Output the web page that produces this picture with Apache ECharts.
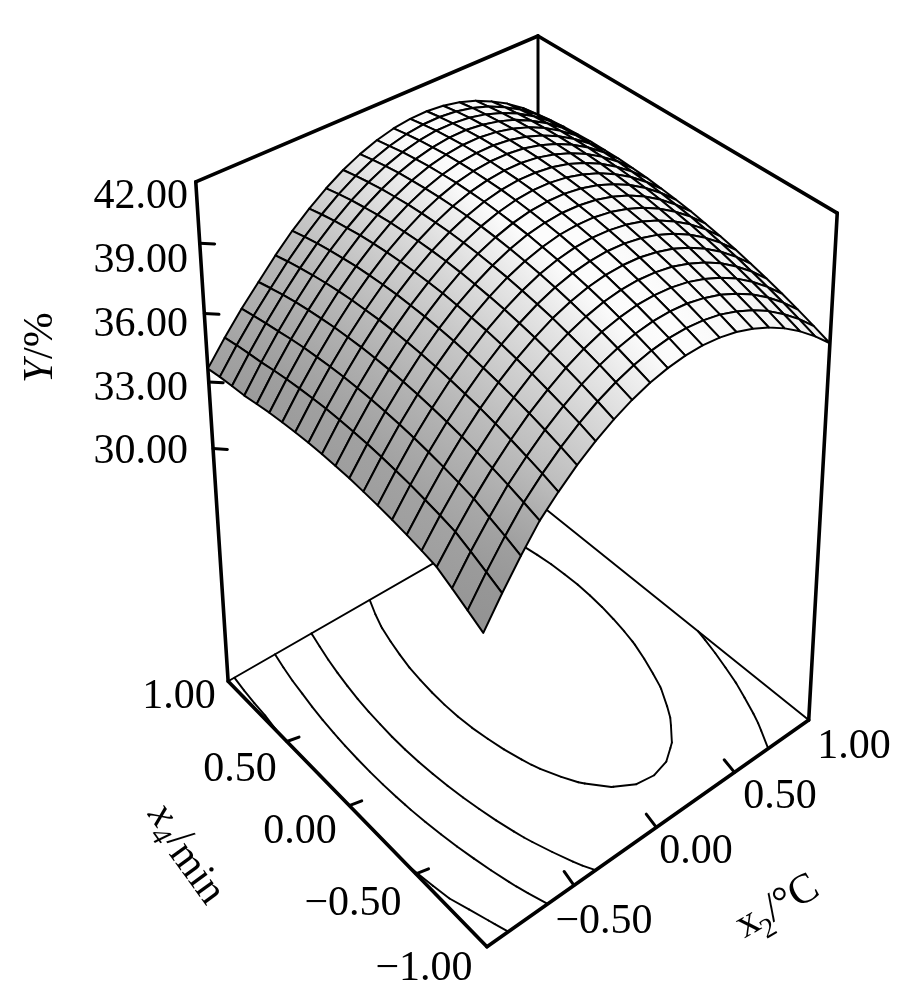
<!DOCTYPE html>
<html><head><meta charset="utf-8"><style>html,body{margin:0;padding:0;background:#fff}#c{width:913px;height:1000px}</style>
<script src="https://cdn.jsdelivr.net/npm/echarts@6/dist/echarts.min.js"></script></head>
<body><div id="c"></div><script>
const x2Values=[-1,-0.9,-0.8,-0.7,-0.6,-0.5,-0.4,-0.3,-0.2,-0.1,0,0.1,0.2,0.3,0.4,0.5,0.6,0.7,0.8,0.9,1];
const x4Values=[1,0.9,0.8,0.7,0.6,0.5,0.4,0.3,0.2,0.1,0,-0.1,-0.2,-0.3,-0.4,-0.5,-0.6,-0.7,-0.8,-0.9,-1];
const surface=[
[33.59,34.57,35.47,36.27,37.07,37.79,38.41,38.95,39.41,39.77,40.05,40.24,40.34,40.36,40.29,40.13,39.89,39.55,39.14,38.63,38.03],
[33.69,34.69,35.60,36.43,37.23,37.94,38.56,39.10,39.55,39.91,40.18,40.37,40.47,40.48,40.41,40.25,40.00,39.66,39.24,38.73,38.13],
[33.76,34.78,35.72,36.58,37.37,38.08,38.69,39.23,39.67,40.03,40.30,40.48,40.58,40.58,40.51,40.34,40.09,39.75,39.32,38.80,38.20],
[33.81,34.86,35.82,36.70,37.49,38.19,38.80,39.33,39.77,40.13,40.39,40.57,40.66,40.67,40.58,40.41,40.16,39.81,39.38,38.86,38.25],
[33.92,34.97,35.93,36.80,37.59,38.28,38.90,39.42,39.85,40.20,40.47,40.64,40.73,40.73,40.64,40.47,40.21,39.86,39.42,38.90,38.29],
[34.02,35.06,36.02,36.88,37.67,38.36,38.97,39.49,39.92,40.26,40.52,40.69,40.77,40.77,40.68,40.50,40.24,39.88,39.44,38.92,38.30],
[34.09,35.13,36.08,36.95,37.73,38.41,39.02,39.53,39.96,40.30,40.56,40.72,40.80,40.79,40.70,40.52,40.25,39.89,39.45,38.92,38.30],
[34.15,35.18,36.13,36.99,37.76,38.45,39.05,39.56,39.98,40.32,40.57,40.73,40.81,40.80,40.70,40.51,40.24,39.88,39.43,38.90,38.27],
[34.19,35.22,36.16,37.02,37.79,38.47,39.06,39.57,39.99,40.32,40.57,40.73,40.80,40.78,40.68,40.49,40.21,39.85,39.39,38.85,38.23],
[34.20,35.23,36.17,37.02,37.79,38.46,39.05,39.56,39.97,40.30,40.54,40.70,40.77,40.75,40.64,40.44,40.16,39.79,39.34,38.79,38.16],
[34.20,35.22,36.16,37.01,37.77,38.44,39.03,39.53,39.94,40.26,40.50,40.65,40.71,40.69,40.58,40.38,40.09,39.72,39.26,38.71,38.08],
[34.18,35.20,36.13,36.97,37.73,38.40,38.98,39.47,39.88,40.20,40.44,40.58,40.64,40.61,40.50,40.30,40.01,39.63,39.17,38.61,37.98],
[34.13,35.15,36.08,36.92,37.67,38.33,38.91,39.40,39.81,40.12,40.35,40.50,40.55,40.52,40.40,40.19,39.90,39.52,39.05,38.50,37.85],
[34.07,35.08,36.01,36.84,37.59,38.25,38.83,39.31,39.71,40.03,40.25,40.39,40.44,40.40,40.28,40.07,39.77,39.39,38.92,38.36,37.71],
[33.99,35.00,35.92,36.75,37.49,38.15,38.72,39.20,39.60,39.91,40.13,40.26,40.31,40.27,40.14,39.93,39.63,39.24,38.76,38.20,37.55],
[33.89,34.89,35.81,36.63,37.38,38.03,38.59,39.07,39.47,39.77,39.99,40.12,40.16,40.12,39.98,39.77,39.46,39.07,38.59,38.02,37.36],
[33.77,34.77,35.68,36.50,37.24,37.89,38.45,38.92,39.31,39.61,39.83,39.95,39.99,39.94,39.81,39.58,39.27,38.88,38.39,37.82,37.16],
[33.63,34.62,35.53,36.35,37.08,37.73,38.28,38.76,39.14,39.44,39.64,39.77,39.80,39.75,39.61,39.38,39.07,38.67,38.18,37.60,36.94],
[33.30,34.35,35.30,36.18,36.90,37.55,38.10,38.57,38.95,39.24,39.44,39.56,39.59,39.54,39.39,39.16,38.84,38.44,37.95,37.37,36.70],
[32.95,34.05,35.06,35.98,36.71,37.35,37.90,38.36,38.73,39.02,39.22,39.34,39.36,39.30,39.16,38.92,38.60,38.19,37.69,37.11,36.44],
[32.59,33.74,34.80,35.77,36.49,37.13,37.67,38.13,38.50,38.79,38.98,39.09,39.12,39.05,38.90,38.66,38.33,37.92,37.42,36.83,36.16]
];
const contourLevels=[33.95,36.1,37.8,39.65];
const zTicks=[30,33,36,39];
const zLabels=['42.00','39.00','36.00','33.00','30.00'];
const x4Ticks=[0.5,0,-0.5];
const x2Ticks=[-0.5,0,0.5];
const x4Labels=['1.00','0.50','0.00','\u22120.50','\u22121.00'];
const x2Labels=['\u22120.50','0.00','0.50','1.00'];
const Z0=18.87,Z1=41.56;
const anchors=[[-1,1,Z0,227,679],[-1,-1,Z0,488,948],[1,-1,Z0,808,719],[1,1,Z0,539,505],[-1,1,Z1,196,183],[1,1,Z1,538,35],[1,-1,Z1,837,213]];
function solve(A,b){const n=b.length;for(let i=0;i<n;i++){let m=i;for(let r=i+1;r<n;r++)if(Math.abs(A[r][i])>Math.abs(A[m][i]))m=r;[A[i],A[m]]=[A[m],A[i]];[b[i],b[m]]=[b[m],b[i]];for(let r=i+1;r<n;r++){const k=A[r][i]/A[i][i];for(let c=i;c<n;c++)A[r][c]-=k*A[i][c];b[r]-=k*b[i];}}
const x=new Array(n);for(let i=n-1;i>=0;i--){let s=b[i];for(let c=i+1;c<n;c++)s-=A[i][c]*x[c];x[i]=s/A[i][i];}return x;}
function normZ(z){return (z-30)/11;}
const rows=[],rhs=[];
anchors.forEach(([X,Y,z,u,v])=>{const Z=normZ(z),U=u/500,V=v/500;
rows.push([X,Y,Z,1,0,0,0,0,-U*X,-U*Y,-U*Z]);rhs.push(U);
rows.push([0,0,0,0,X,Y,Z,1,-V*X,-V*Y,-V*Z]);rhs.push(V);});
const N=Array.from({length:11},(_,i)=>Array.from({length:11},(_,j)=>rows.reduce((s,r)=>s+r[i]*r[j],0)+(i===j?1e-9:0)));
const nb=Array.from({length:11},(_,i)=>rows.reduce((s,r,k)=>s+r[i]*rhs[k],0));
const M=solve(N,nb);
function w(X,Y,z){return M[8]*X+M[9]*Y+M[10]*normZ(z)+1;}
function proj(X,Y,z){const Z=normZ(z),W=w(X,Y,z);return [500*(M[0]*X+M[1]*Y+M[2]*Z+M[3])/W,500*(M[4]*X+M[5]*Y+M[6]*Z+M[7])/W];}
const nearSign=w(-1,-1,Z0)>w(1,1,Z0)?1:-1;
const nx=x2Values.length,ny=x4Values.length;
function grayAt(j,i){
 const iL=Math.max(0,i-1),iR=Math.min(nx-1,i+1),jU=Math.max(0,j-1),jD=Math.min(ny-1,j+1);
 const sl=0.123;
 const zx=(surface[j][iR]-surface[j][iL])/(x2Values[iR]-x2Values[iL])*sl;
 const zy=(surface[jD][i]-surface[jU][i])/(x4Values[jD]-x4Values[jU])*sl;
 const len=Math.hypot(zx,zy,1);
 const nl=(-zx*0.30+0.954)/len;
 let g=150+(nl-0.32)*190;g=Math.min(g,252);if(zx<0)g=Math.min(g,252+zx*14);
 return Math.max(120,g);
}
const gray=x4Values.map((_,j)=>x2Values.map((_,i)=>grayAt(j,i)));
const cells=[];
for(let j=0;j<ny-1;j++)for(let i=0;i<nx-1;i++){
 const cx=(x2Values[i]+x2Values[i+1])/2,cy=(x4Values[j]+x4Values[j+1])/2;
 const cz=(surface[j][i]+surface[j][i+1]+surface[j+1][i]+surface[j+1][i+1])/4;
 cells.push({i,j,depth:w(cx,cy,cz)*nearSign});
}
cells.sort((a,b)=>a.depth-b.depth);
const segs=[];
contourLevels.forEach(L=>{for(let j=0;j<ny-1;j++)for(let i=0;i<nx-1;i++){
 const q=[[x2Values[i],x4Values[j],surface[j][i]],[x2Values[i+1],x4Values[j],surface[j][i+1]],[x2Values[i+1],x4Values[j+1],surface[j+1][i+1]],[x2Values[i],x4Values[j+1],surface[j+1][i]]];
 const pts=[];for(let k=0;k<4;k++){const A=q[k],B=q[(k+1)%4];if((A[2]-L)*(B[2]-L)<0){const t=(L-A[2])/(B[2]-A[2]);pts.push([A[0]+t*(B[0]-A[0]),A[1]+t*(B[1]-A[1])]);}}
 if(pts.length===2)segs.push(pts);else if(pts.length===4){segs.push([pts[0],pts[1]]);segs.push([pts[2],pts[3]]);}
}});
const frameThick=[[[-1,1,Z1],[1,1,Z1]],[[1,1,Z1],[1,-1,Z1]],[[-1,1,Z1],[-1,1,Z0]],[[1,-1,Z1],[1,-1,Z0]],[[-1,1,Z0],[-1,-1,Z0]],[[-1,-1,Z0],[1,-1,Z0]]];
const frameThin=[[[-1,1,Z0],[1,1,Z0]],[[1,1,Z0],[1,-1,Z0]]];
const tickSegs=[];
zTicks.forEach(z=>tickSegs.push([[-1,1,z],[-0.952,0.952,z]]));
x4Ticks.forEach(t=>tickSegs.push([[-1,t,Z0],[-0.94,t-0.015,Z0]]));
x2Ticks.forEach(t=>tickSegs.push([[t,-1,Z0],[t+0.016,-0.915,Z0]]));
const FONT='"Liberation Serif"';
const textItems=[];
[197,261,325,389,452].forEach((yy,i)=>textItems.push({t:zLabels[i],x:188,y:yy,a:'right'}));
[[179,697],[240,770],[300,832],[353,904],[424,969]].forEach((p,i)=>textItems.push({t:x4Labels[i],x:p[0],y:p[1],a:'center'}));
[[604,922],[696,852],[780,797],[854,747]].forEach((p,i)=>textItems.push({t:x2Labels[i],x:p[0],y:p[1],a:'center'}));
function lineItem(api,p0,p1,width){const a=api.coord(p0),b=api.coord(p1);return {type:'line',shape:{x1:a[0],y1:a[1],x2:b[0],y2:b[1]},style:{stroke:'#000',lineWidth:width,lineCap:'round'}};}
function grayCss(g){const v=Math.round(g);return 'rgb('+v+','+v+','+v+')';}
const chart=echarts.init(document.getElementById('c'),null,{renderer:'canvas'});
const base={type:'custom',coordinateSystem:'cartesian2d',silent:true,animation:false,clip:false,encode:{x:0,y:1}};
chart.setOption({animation:false,backgroundColor:'#fff',
 grid:{left:0,right:0,top:0,bottom:0},
 xAxis:{type:'value',min:0,max:913,show:false},
 yAxis:{type:'value',min:0,max:1000,inverse:true,show:false},
 series:[
 {...base,z:1,data:frameThin.map((s,i)=>[i]),renderItem:(p,api)=>{const s=frameThin[p.dataIndex];return lineItem(api,proj(...s[0]),proj(...s[1]),1.9);}},
 {...base,z:2,data:segs.map((s,i)=>[i]),renderItem:(p,api)=>{const s=segs[p.dataIndex];return lineItem(api,proj(s[0][0],s[0][1],Z0),proj(s[1][0],s[1][1],Z0),1.9);}},
 {...base,z:3,data:tickSegs.map((s,i)=>[i]),renderItem:(p,api)=>{const s=tickSegs[p.dataIndex];return lineItem(api,proj(...s[0]),proj(...s[1]),3);}},
 {...base,z:3,data:frameThick.map((s,i)=>[i]),renderItem:(p,api)=>{const s=frameThick[p.dataIndex];return lineItem(api,proj(...s[0]),proj(...s[1]),3.6);}},
 {...base,z:3,data:[[0]],renderItem:(p,api)=>lineItem(api,proj(1,1,Z1),proj(1,1,Z0),3)},
 {...base,z:4,data:cells.map((c,i)=>[i]),renderItem:(p,api)=>{const c=cells[p.dataIndex];const i=c.i,j=c.j;
   const pts=[[i,j],[i+1,j],[i+1,j+1],[i,j+1]].map(([a,b])=>api.coord(proj(x2Values[a],x4Values[b],surface[b][a])));
   const mL=[(pts[0][0]+pts[3][0])/2,(pts[0][1]+pts[3][1])/2],mR=[(pts[1][0]+pts[2][0])/2,(pts[1][1]+pts[2][1])/2];
   const gL=(gray[j][i]+gray[j+1][i])/2,gR=(gray[j][i+1]+gray[j+1][i+1])/2;
   const fill={type:'linear',global:true,x:mL[0],y:mL[1],x2:mR[0],y2:mR[1],colorStops:[{offset:0,color:grayCss(gL)},{offset:1,color:grayCss(gR)}]};
   return {type:'polygon',shape:{points:pts},style:{fill:fill,stroke:'#000',lineWidth:2,lineJoin:'round'}};}},
 {...base,z:5,data:textItems.map((c,i)=>[i]),renderItem:(p,api)=>{const c=textItems[p.dataIndex];const a=api.coord([c.x,c.y]);
   return {type:'text',x:a[0],y:a[1],style:{text:c.t,fill:'#000',font:'42px '+FONT,textAlign:c.a,textVerticalAlign:'middle'}};}}
 ],
 graphic:[
  {type:'group',z:10,x:41,y:383,rotation:Math.PI/2,children:[
   {type:'text',x:0,y:0,style:{text:'Y',font:'italic 42px '+FONT,fill:'#000',textVerticalAlign:'middle'}},
   {type:'text',x:24,y:0,style:{text:'/%',font:'42px '+FONT,fill:'#000',textVerticalAlign:'middle'}}]},
  {type:'group',z:10,x:156,y:808,rotation:-0.94,children:[
   {type:'text',x:0,y:0,style:{text:'x',font:'italic 42px '+FONT,fill:'#000',textVerticalAlign:'middle'}},
   {type:'text',x:18,y:14,style:{text:'4',font:'italic 28px '+FONT,fill:'#000',textVerticalAlign:'middle'}},
   {type:'text',x:33,y:0,style:{text:'/',font:'42px '+FONT,fill:'#000',textVerticalAlign:'middle'}},
   {type:'text',x:44,y:6,style:{text:'min',font:'42px '+FONT,fill:'#000',textVerticalAlign:'middle'}}]},
  {type:'group',z:10,x:739,y:929,rotation:0.52,children:[
   {type:'text',x:0,y:0,style:{text:'x',font:'42px '+FONT,fill:'#000',textVerticalAlign:'middle'}},
   {type:'text',x:19,y:15,style:{text:'2',font:'28px '+FONT,fill:'#000',textVerticalAlign:'middle'}},
   {type:'text',x:33,y:0,style:{text:'/',font:'42px '+FONT,fill:'#000',textVerticalAlign:'middle'}},
   {type:'text',x:44,y:0,style:{text:'\u00b0C',font:'42px '+FONT,fill:'#000',textVerticalAlign:'middle'}}]}
 ]
});
</script></body></html>
